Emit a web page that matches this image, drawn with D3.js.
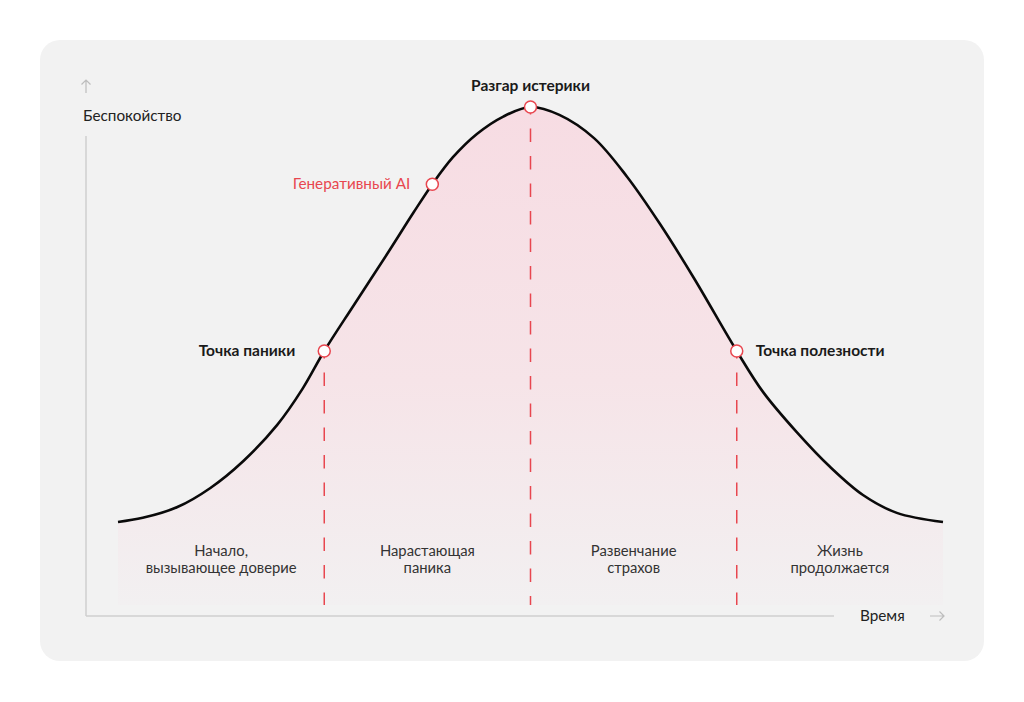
<!DOCTYPE html>
<html>
<head>
<meta charset="utf-8">
<script src="https://cdn.jsdelivr.net/npm/d3@7"></script>
<style>
  html, body { margin: 0; padding: 0; background: #ffffff; }
  svg { display: block; }
  text { font-family: Lato, "Noto Sans", sans-serif; }
</style>
</head>
<body>
<svg id="chart" width="1024" height="702"></svg>
<script>
// ---- Data ----
// time (0..100) vs anxiety (0 = calm baseline, 100 = peak)
const curveTime    = [0, 3.0, 7.2, 11.2, 15.2, 19.3, 22.4, 25, 28.5, 32.6, 35.8, 38.1, 40.6, 43.5, 46.7, 50, 53.5, 57.7, 61.7, 65.7, 69.8, 75, 78.2, 82.3, 86.3, 90.3, 94.4, 100];
const curveAnxiety = [0, 1.0, 3.6, 8.2, 14.7, 23.4, 32.2, 41.2, 52.0, 64.5, 74.5, 81.4, 87.9, 93.5, 97.7, 100, 98.1, 92.5, 83.2, 71.8, 58.8, 41.2, 31.3, 21.6, 13.3, 6.5, 2.2, 0];

const keyPointNames   = ["Точка паники", "Генеративный AI", "Разгар истерики", "Точка полезности"];
const keyPointTime    = [25, 38.1, 50, 75];
const keyPointAnxiety = [41.2, 81.4, 100, 41.2];
const keyPointDashed  = [true, false, true, true];

const phaseNames = [["Начало,", "вызывающее доверие"], ["Нарастающая", "паника"], ["Развенчание", "страхов"], ["Жизнь", "продолжается"]];
const phaseBounds = [0, 25, 50, 75, 100];

const yAxisLabel = "Беспокойство";
const xAxisLabel = "Время";

// ---- Layout ----
const svg = d3.select("#chart");
const red = "#e8464f";
const axisGrey = "#cfcfcf";

svg.append("rect").attr("x", 40).attr("y", 40).attr("width", 944).attr("height", 621)
  .attr("rx", 20).attr("fill", "#f2f2f2");

const x = d3.scaleLinear().domain([0, 100]).range([118, 943]);
const y = d3.scaleLinear().domain([0, 100]).range([522, 107]);
const yFloor = -20; // fill extends below baseline

const data = curveTime.map((t, i) => ({ t, v: curveAnxiety[i] }));
const curveType = d3.curveCatmullRom.alpha(0.5);

// gradient
const defs = svg.append("defs");
const grad = defs.append("linearGradient").attr("id", "fillGrad")
  .attr("gradientUnits", "userSpaceOnUse")
  .attr("x1", 0).attr("x2", 0).attr("y1", y(100)).attr("y2", y(yFloor));
grad.append("stop").attr("offset", "0%").attr("stop-color", "#f7dce3");
grad.append("stop").attr("offset", "55%").attr("stop-color", "#f6e4e8");
grad.append("stop").attr("offset", "100%").attr("stop-color", "#f2f0f1");

const area = d3.area().x(d => x(d.t)).y0(y(yFloor)).y1(d => y(d.v)).curve(curveType);
svg.append("path").datum(data).attr("d", area).attr("fill", "url(#fillGrad)");

// axes
const axisLeftX = 86, axisBottomY = 616;
svg.append("line").attr("x1", axisLeftX).attr("x2", axisLeftX).attr("y1", 136).attr("y2", axisBottomY)
  .attr("stroke", axisGrey).attr("stroke-width", 1.5);
svg.append("line").attr("x1", axisLeftX).attr("x2", 834).attr("y1", axisBottomY).attr("y2", axisBottomY)
  .attr("stroke", axisGrey).attr("stroke-width", 1.5);

// arrows
const arrowCol = "#bdbdbd";
svg.append("path").attr("d", `M${axisLeftX},80 L${axisLeftX},93 M${axisLeftX - 4.5},84.5 L${axisLeftX},80 L${axisLeftX + 4.5},84.5`)
  .attr("fill", "none").attr("stroke", arrowCol).attr("stroke-width", 1.2);
svg.append("path").attr("d", `M930,616 L944,616 M939.5,611.5 L944,616 L939.5,620.5`)
  .attr("fill", "none").attr("stroke", arrowCol).attr("stroke-width", 1.2);

svg.append("text").attr("x", 83).attr("y", 121).attr("font-size", 15.3).attr("fill", "#222").text(yAxisLabel);
svg.append("text").attr("x", 860).attr("y", 621).attr("font-size", 15.3).attr("fill", "#222").text(xAxisLabel);

// dashed lines
keyPointTime.forEach((t, i) => {
  if (!keyPointDashed[i]) return;
  svg.append("line").attr("x1", x(t)).attr("x2", x(t))
    .attr("y1", y(keyPointAnxiety[i]) - 6).attr("y2", y(yFloor))
    .attr("stroke", red).attr("stroke-width", 1.5).attr("stroke-dasharray", "13.5,14");
});

// curve
const line = d3.line().x(d => x(d.t)).y(d => y(d.v)).curve(curveType);
svg.append("path").datum(data).attr("d", line).attr("fill", "none")
  .attr("stroke", "#0a0a0a").attr("stroke-width", 2.6);

// markers
keyPointTime.forEach((t, i) => {
  svg.append("circle").attr("cx", x(t)).attr("cy", y(keyPointAnxiety[i])).attr("r", 6)
    .attr("fill", "#ffffff").attr("stroke", red).attr("stroke-width", 1.5);
});

// key point labels
const labelSpecs = [
  { dx: -29, dy: 5, anchor: "end", color: "#1a1a1a", weight: 700, size: 15.5 },
  { dx: -22, dy: 5, anchor: "end", color: red, weight: 400, size: 15.3 },
  { dx: 0, dy: -16, anchor: "middle", color: "#1a1a1a", weight: 700, size: 15.5 },
  { dx: 19, dy: 5, anchor: "start", color: "#1a1a1a", weight: 700, size: 15.5 }
];
keyPointNames.forEach((name, i) => {
  const s = labelSpecs[i];
  svg.append("text").attr("x", x(keyPointTime[i]) + s.dx).attr("y", y(keyPointAnxiety[i]) + s.dy)
    .attr("text-anchor", s.anchor).attr("font-size", s.size).attr("font-weight", s.weight)
    .attr("fill", s.color).text(name);
});

// phase labels
phaseNames.forEach((lines, i) => {
  const cx = x((phaseBounds[i] + phaseBounds[i + 1]) / 2);
  const tx = svg.append("text").attr("text-anchor", "middle").attr("font-size", 14.8).attr("fill", "#333");
  lines.forEach((l, j) => {
    tx.append("tspan").attr("x", cx).attr("y", 556 + j * 17).text(l);
  });
});
</script>
</body>
</html>
